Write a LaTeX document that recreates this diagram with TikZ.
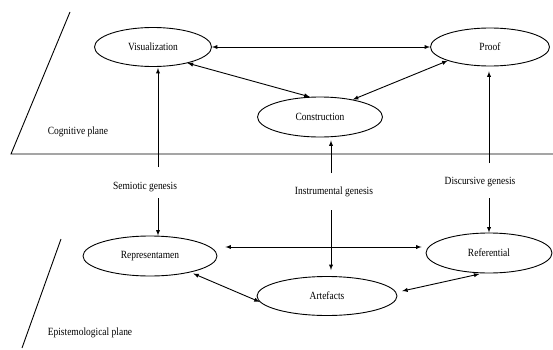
\documentclass[tikz,border=0pt]{standalone}
\usepackage{fontspec}
\setmainfont{Liberation Serif}[FakeStretch=0.86]
\usetikzlibrary{shapes.geometric}
\tikzset{
  plane/.style={ellipse, draw, line width=0.9pt, inner sep=0pt},
  genlabel/.style={font=\fontsize{11}{13}\selectfont},
  link/.style={latex-latex, line width=0.9pt},
  up/.style={-latex, line width=0.9pt}
}
\begin{document}
\begin{tikzpicture}[x=1pt, y=1pt, every node/.style={font=\fontsize{11}{13}\selectfont}]
  \useasboundingbox (0,0) rectangle (553,349);
  % the two planes
  \draw[line width=0.9pt] (70,337) -- (11,195) -- (553,195);
  \draw[line width=0.9pt] (61,110) -- (22,1);
  \node (cog) at (78,217) {Cognitive plane};
  \node (epi) at (90,16) {Epistemological plane};

  \node[plane, minimum width=117, minimum height=39] (vis) at (153,302) {Visualization};
  \node[plane, minimum width=119, minimum height=38] (proof) at (490,302) {Proof};
  \node[plane, minimum width=125, minimum height=40] (cons) at (320,232) {Construction};
  \node[plane, minimum width=134, minimum height=40] (rep) at (150,93) {Representamen};
  \node[plane, minimum width=140, minimum height=39] (art) at (327,53) {Artefacts};
  \node[plane, minimum width=126, minimum height=40] (ref) at (489,96) {Referential};

  \node[genlabel] (sem) at (145,162) {Semiotic genesis};
  \node[genlabel] (ins) at (334,157) {Instrumental genesis};
  \node[genlabel] (dis) at (480,167) {Discursive genesis};

  \draw[link] (vis) -- (proof);
  \draw[link] (vis.-25) -- (cons.117);
  \draw[link] (cons.28) -- (proof.198);
  \draw[link] ([shift={(8,9)}]rep.east) -- ([shift={(-4,6)}]ref.west);
  \draw[link, shorten <=3pt] (rep.-22) -- (art.185);
  \draw[link, shorten <=6pt, shorten >=3pt] (art.3) -- (ref.252);

  % geneses
  \coordinate (s1) at (158,182);
  \coordinate (s2) at (158,151);
  \coordinate (i1) at (331,176);
  \coordinate (i2) at (331,139);
  \coordinate (d1) at (489,186);
  \coordinate (d2) at (489,151);
  \draw[up, shorten >=1pt] (s1) -- (s1 |- vis.south);
  \draw[up] (s2) -- (s2 |- rep.north);
  \draw[up, shorten >=3pt] (i1) -- (i1 |- cons.south);
  \draw[up, shorten >=6pt] (i2) -- (i2 |- art.north);
  \draw[up, shorten >=5pt] (d1) -- (d1 |- proof.south);
  \draw[up] (d2) -- (d2 |- ref.north);
\end{tikzpicture}
\end{document}
